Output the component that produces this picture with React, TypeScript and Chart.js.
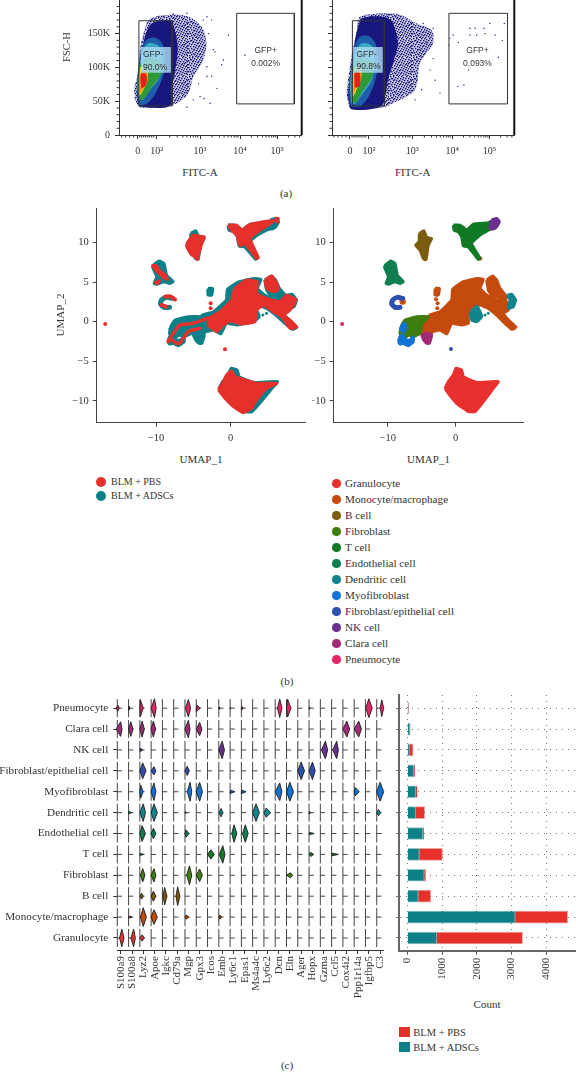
import React, { useEffect, useRef } from "react";
import { Chart, registerables } from "chart.js";
Chart.register(...registerables);
Chart.defaults.font.family = "'Liberation Serif'";
Chart.defaults.color = "#333";

type P = [number, number];

// ---- (a) flow cytometry, x in display decades, y in thousands
const flowXTicks = [0, 0.475, 1.56, 2.56, 3.49];
const flowXLabels = ["0", "10²", "10³", "10⁴", "10⁵"];
const flowYTicks = [0, 50, 100, 150];
const flowYLabels = ["0", "50K", "100K", "150K"];
const flowXMinor = [-0.4, -0.3, -0.2, -0.1, 0.05, 0.1, 0.15, 0.2, 0.25, 0.3, 0.35, 0.4, 0.8, 0.99, 1.13, 1.23, 1.32, 1.39, 1.45, 1.5, 1.86, 2.04, 2.16, 2.26, 2.34, 2.41, 2.46, 2.51, 2.84, 3.0, 3.12, 3.21, 3.28, 3.35, 3.4, 3.45, 3.77, 3.93, 4.05];
const flowYMinor = [10, 20, 30, 40, 60, 70, 80, 90, 110, 120, 130, 140, 160, 170, 180, 190];

const aSparse: P[] = [[-0.07, 52], [-0.09, 67], [0, 91], [0.06, 126], [0.14, 150], [0.31, 172], [0.81, 178], [1.27, 175], [1.6, 160], [1.72, 136], [1.64, 111], [1.39, 86], [1.27, 62], [0.98, 47], [0.56, 41], [0.06, 41]];
const aDense: P[] = [[0, 49], [-0.02, 71], [0.06, 111], [0.18, 145], [0.35, 165], [0.81, 169], [0.95, 150], [1.0, 125], [0.92, 90], [0.85, 71], [0.8, 43], [0.06, 42]];
const aBlue: P[] = [[0.02, 48], [-0.02, 75], [0.04, 110], [0.12, 132], [0.25, 142], [0.45, 144], [0.62, 135], [0.7, 110], [0.62, 85], [0.45, 62], [0.25, 47], [0.05, 44]];
const aCyan: P[] = [[0.03, 52], [0, 76], [0.06, 106], [0.15, 128], [0.3, 136], [0.52, 132], [0.62, 110], [0.55, 85], [0.33, 68], [0.12, 52]];
const aGreen: P[] = [[0.04, 52], [0, 76], [0.06, 102], [0.18, 112], [0.43, 112], [0.6, 105], [0.6, 91], [0.35, 71], [0.14, 52]];
const aYellow: P[] = [[0.03, 57], [0.03, 81], [0.08, 101], [0.24, 96], [0.24, 81], [0.1, 62]];
const aOrange: P[] = [[0.06, 62], [0.06, 85], [0.1, 95], [0.23, 93], [0.23, 76], [0.1, 66]];
const aRed: P[] = [[0.09, 69], [0.08, 90], [0.21, 90], [0.21, 74]];
const aOutliers: P[] = [[1.73, 175], [1.85, 170], [2.27, 148], [2.68, 118], [2.14, 111], [2.1, 104], [1.73, 87], [1.85, 87], [1.98, 69], [1.81, 47], [1.66, 54], [1.23, 41], [1.89, 126], [1.93, 123], [1.56, 57], [1.39, 52], [1.18, 57], [1.1, 62], [1.52, 76], [1.73, 101], [1.77, 150], [1.64, 170], [1.23, 180], [0.52, 175], [0.89, 179]];
const aGateNeg: P[] = [[0.03, 169], [0.86, 169], [0.86, 43], [0.03, 43]];
const aGatePos: P[] = [[2.475, 180], [3.915, 180], [3.915, 46], [2.475, 46]];
const aLabelBack: P[] = [[0.08, 130], [0.83, 130], [0.83, 92], [0.08, 92]];

const bSparse: P[] = [[-0.07, 54], [-0.08, 67], [0.04, 116], [0.17, 155], [0.25, 175], [1.17, 179], [1.67, 165], [2.04, 155], [2.08, 136], [1.75, 106], [1.63, 67], [1.08, 47], [0.83, 41], [0.04, 38]];
const bDense: P[] = [[-0.04, 52], [-0.04, 67], [0.07, 116], [0.18, 155], [0.33, 173], [0.83, 175], [1.05, 168], [1.2, 136], [1.1, 111], [0.95, 81], [0.86, 52], [0.75, 41], [0.04, 38]];
const bBlue: P[] = [[0, 46], [-0.02, 70], [0.06, 112], [0.15, 136], [0.27, 146], [0.48, 146], [0.64, 135], [0.7, 110], [0.65, 85], [0.48, 58], [0.25, 42], [0.05, 42]];
const bCyan: P[] = [[0.03, 48], [0, 74], [0.08, 110], [0.18, 128], [0.32, 136], [0.55, 132], [0.62, 110], [0.55, 82], [0.33, 62], [0.12, 46]];
const bGreen: P[] = [[0.05, 50], [0.02, 75], [0.1, 105], [0.2, 112], [0.42, 112], [0.6, 105], [0.55, 85], [0.32, 65], [0.15, 48]];
const bYellow: P[] = [[0.06, 55], [0.06, 80], [0.12, 100], [0.27, 100], [0.28, 85], [0.15, 65]];
const bOrange: P[] = [[0.09, 60], [0.09, 85], [0.13, 96], [0.26, 95], [0.26, 78], [0.14, 68]];
const bRed: P[] = [[0.12, 70], [0.12, 92], [0.24, 92], [0.24, 72]];
const bOutliers: P[] = [[2.58, 148], [2.71, 137], [3, 158], [3.13, 158], [3, 148], [3.17, 148], [3.35, 158], [3.38, 150], [3.5, 165], [3.63, 148], [3.86, 165], [3.81, 140], [3.71, 115], [2.96, 96], [2.85, 74], [2.7, 72], [2.5, 143], [2.48, 133], [2.25, 62], [2.13, 81], [2, 96], [2.08, 158], [1.83, 165], [1.96, 150], [2.08, 113], [1.79, 67], [1.63, 52], [1.92, 136], [1.75, 126]];
const bGateNeg: P[] = [[0.06, 169], [0.86, 169], [0.86, 43], [0.06, 43]];
const bGatePos: P[] = [[2.475, 180], [3.94, 180], [3.94, 46], [2.475, 46]];
const bLabelBack: P[] = [[0.08, 130], [0.82, 130], [0.82, 92], [0.08, 92]];

// ---- (b) UMAP
const umapXTicks = [-10, 0];
const umapXLabels = ["−10", "0"];
const umapYTicks = [-10, -5, 0, 5, 10];
const umapYLabels = ["−10", "−5", "0", "5", "10"];

const uGranulocyte: P[] = [[-1.57, -8.4], [-1.08, -7.56], [-0.34, -6.72], [0.05, -5.88], [0.88, -6.09], [1.13, -6.93], [3.09, -7.65], [6.27, -7.56], [5.54, -8.4], [4.07, -10.08], [2.84, -11.34], [1.86, -11.34], [0.15, -10.29], [-1.08, -9.03]];
const uMono: P[] = [[-5.1, -1.26], [-4.51, -0.21], [-3.77, 0.84], [-2.3, 1.26], [-0.59, 2.73], [-0.44, 4.08], [1.13, 5.04], [3.09, 5.46], [4.07, 5.34], [3.58, 4.2], [4.56, 3.36], [6.03, 2.73], [7.5, 2.52], [7.75, 1.47], [7.01, 1.05], [7.75, 0.21], [8.87, -0.71], [8.24, -0.97], [7.25, -0.21], [6.03, 0.84], [4.8, 1.68], [3.58, 2.1], [2.84, 1.68], [1.86, 0.84], [1.86, -0.21], [0.88, -0.42], [-0.59, -0.21], [-1.32, -1.55], [-2.3, -1.05], [-3.28, -1.26], [-4.02, -1.68], [-5, -1.68]];
const uMonoUpper: P[] = [[4.56, 5.25], [5.44, 5.76], [6.03, 5.25], [6.52, 4.2], [7.5, 3.15], [7.25, 2.73], [6.03, 3.15], [5.29, 3.36], [4.8, 3.99]];
const uMonoStem: P[] = [[-3.04, 4.2], [-2.4, 4.2], [-2.55, 3.36], [-3.04, 3.36]];
const uMonoDots: P[] = [[-2.65, 2.31], [-2.7, 1.68], [-2.89, 2.82], [-4.51, 7.86], [3.63, 7.98], [1.13, 11.85], [-8.14, 5.04]];
const uMonoRingDots: P[] = [[-7.8, 2.55]];
const uBCell: P[] = [[-5.34, 11.13], [-4.66, 11.47], [-4.26, 10.63], [-3.53, 10.5], [-4.02, 9.66], [-4.36, 7.86], [-4.75, 7.98], [-5.25, 9.03], [-5.88, 9.66], [-5.39, 10.08]];
const uFibroblast: P[] = [[-8.04, -0.63], [-7.45, 0.21], [-5.74, 0.63], [-4.02, 0.63], [-5, -0.42], [-5.25, -1.47], [-6.23, -1.89], [-6.96, -1.68], [-7.7, -2.31], [-8.19, -1.47]];
const uTCell: P[] = [[-0.34, 12.18], [0.64, 12.18], [1.62, 11.55], [2.6, 12.31], [4.8, 12.48], [5.54, 12.73], [5.78, 11.97], [4.8, 11.55], [3.58, 10.92], [2.35, 9.87], [3.58, 7.98], [3.33, 7.86], [1.86, 9.45], [1.13, 9.54], [0.88, 10.71], [0.39, 11.34], [-0.25, 11.55]];
const uEndothelial: P[] = [[-10.49, 7.06], [-9.56, 7.65], [-8.92, 7.35], [-8.58, 5.88], [-7.7, 5.04], [-8.19, 4.83], [-8.92, 5.04], [-9.9, 4.71], [-10.25, 4.83], [-9.9, 5.67], [-10.39, 6.72]];
const uDendriticA: P[] = [[2.11, 1.05], [3.09, 1.97], [3.58, 1.26], [3.82, 0.63], [3.09, 0], [2.35, 0.21]];
const uDendriticB: P[] = [[7.6, 3.36], [8.24, 3.45], [8.82, 2.73], [8.48, 1.89], [7.75, 1.68], [7.99, 2.73]];
const uDendriticDots: P[] = [[4.31, 0.84], [4.8, 1.05]];
const uMyoLoop: P[] = [[-8.43, -2.52], [-8.19, -1.89], [-7.7, -1.68], [-7.45, -2.31], [-6.72, -2.31], [-6.23, -1.89], [-6.23, -2.52], [-6.96, -3.03], [-7.7, -2.73], [-8.19, -2.82]];
const uMyoUpper: P[] = [[-8.19, -1.05], [-7.7, -0.21], [-7.3, -0.42], [-7.55, -1.26]];
const uRing: P[] = [[-7.79, 2.94], [-8.58, 3.07], [-9.26, 2.73], [-9.41, 2.23], [-8.92, 1.81], [-8.19, 1.81]];
const uRingDot: P[] = [[-0.69, -3.45]];
const uNK: P[] = [[5.29, 12.82], [6.03, 13.03], [6.42, 12.61], [6.03, 11.97], [5.54, 11.68], [5.05, 11.76]];
const uClara: P[] = [[-5, -1.68], [-4.26, -1.47], [-3.53, -1.68], [-3.87, -2.73], [-4.26, -2.73], [-4.75, -2.23]];
const uPneumoDot: P[] = [[-16.7, -0.29]];

const rGranulocyte: P[] = [[-1.65, -8.61], [-0.98, -7.56], [-0.54, -6.72], [0.13, -6.18], [0.58, -6.93], [3.48, -7.77], [6.16, -7.77], [4.82, -8.4], [3.48, -9.87], [2.81, -10.92], [1.7, -11.47], [0.36, -10.71], [-0.76, -9.66]];
const rMono: P[] = [[-2.99, 0.42], [-1.43, 1.26], [0.13, 2.73], [0.58, 4.2], [2.14, 5.25], [3.57, 5.04], [3.48, 3.57], [4.82, 2.94], [6.61, 2.52], [7.5, 3.36], [8.75, 2.73], [7.95, 1.47], [7.14, 0.84], [7.95, 0.21], [8.84, -0.71], [7.95, -0.84], [6.83, 0.63], [5.71, 1.26], [4.38, 2.1], [3.48, 1.47], [3.26, 0], [1.47, -0.29], [-0.09, 0.13], [-1.21, -0.63], [-1.88, -1.26], [-2.99, -0.42]];
const rMonoUpper: P[] = [[4.6, 5.25], [5.49, 5.76], [6.16, 4.83], [6.38, 3.99], [5.71, 3.78], [4.82, 4.2]];
const rTCell: P[] = [[-0.31, 12.18], [0.8, 12.18], [1.47, 11.55], [2.37, 12.18], [4.38, 12.61], [5.71, 12.73], [5.04, 12.18], [3.93, 11.55], [2.59, 10.5], [3.71, 8.09], [3.48, 7.98], [1.92, 9.87], [1.25, 9.54], [0.8, 10.92], [-0.09, 11.76]];
const rNK: P[] = [[5.94, 13.03], [6.38, 13.03], [6.25, 12.48]];
const rBCell: P[] = [[-5.89, 9.87], [-5, 10.92], [-4.33, 10.8], [-3.53, 10.71], [-3.88, 9.87], [-4.46, 7.86], [-4.78, 8.19], [-5.22, 8.4], [-5.89, 9.45]];
const rEndothelialA: P[] = [[-10.58, 7.14], [-9.91, 7.14], [-9.46, 6.51], [-8.66, 5.88], [-8.35, 5.25], [-8.93, 5.46], [-9.46, 5.88], [-10.13, 6.51]];
const rEndothelialB: P[] = [[-10.27, 4.92], [-9.46, 5.25], [-9.69, 4.75]];
const rRingA: P[] = [[-8.79, 3.15], [-8.1, 3.2], [-7.45, 2.8]];
const rRingB: P[] = [[-9.24, 2.1], [-8.57, 1.89]];
const rFibroA: P[] = [[-8.35, -2.52], [-7.68, -1.47], [-6.79, -0.42], [-5, -0.21], [-3.21, 0.42]];
const rFibroB: P[] = [[-7.9, -2.31], [-7, -2.82], [-6.34, -2.1], [-5.67, -1.26], [-4.11, -0.84]];
const rDots: P[] = [[-2.68, 2.31], [-2.68, 1.68], [-0.76, -3.49], [-16.8, -0.29]];

// ---- shared categories, bottom to top
const cellTypes = ["Granulocyte", "Monocyte/macrophage", "B cell", "Fibroblast", "T cell", "Endothelial cell", "Dendritic cell", "Myofibroblast", "Fibroblast/epithelial cell", "NK cell", "Clara cell", "Pneumocyte"];
const cellColors = ["#e8302e", "#c44a0d", "#7b5c0e", "#3f7d10", "#0f7a23", "#0f7f50", "#11858e", "#1273d6", "#2d4fae", "#6a3090", "#a32a78", "#e6256a"];
const RED = "#e5302c";
const TEAL = "#0d8088";
const groupNames = ["BLM + PBS", "BLM + ADSCs"];

// ---- (c) violins: gene, left, right, half height, peak position
const genes = ["S100a9", "S100a8", "Lyz2", "Apoe", "Igkc", "Cd79a", "Mgp", "Gpx3", "Icos", "Emb", "Ly6c1", "Epas1", "Ms4a4c", "Ly6c2", "Dcn", "Eln", "Ager", "Hopx", "Gzma", "Ccl5", "Cox4i2", "Ppp1r14a", "Igfbp5", "C3"];
type V = [string, number, number, number, number];
const vGranulocyte: V[] = [["S100a9", 0.2, 0.6, 0.42, 0.4], ["S100a8", 0.2, 0.6, 0.42, 0.45], ["Lyz2", 0, 0.4, 0.15, 0.2]];
const vMono: V[] = [["S100a8", 0, 0.3, 0.05, 0.05], ["Lyz2", 0.05, 0.58, 0.45, 0.3], ["Apoe", 0, 0.55, 0.35, 0.25], ["Mgp", 0, 0.35, 0.1, 0.1], ["Emb", 0, 0.25, 0.1, 0.1]];
const vBCell: V[] = [["Lyz2", 0, 0.3, 0.14, 0.15], ["Apoe", 0, 0.42, 0.24, 0.2], ["Igkc", 0.05, 0.4, 0.42, 0.2], ["Cd79a", 0.2, 0.55, 0.45, 0.35]];
const vFibroblast: V[] = [["Lyz2", 0.05, 0.45, 0.32, 0.25], ["Apoe", 0, 0.42, 0.32, 0.25], ["Mgp", 0.15, 0.6, 0.45, 0.4], ["Gpx3", 0, 0.55, 0.3, 0.3], ["Eln", 0, 0.55, 0.12, 0.35]];
const vTCell: V[] = [["Lyz2", 0, 0.3, 0.05, 0.05], ["Icos", 0, 0.6, 0.22, 0.3], ["Emb", 0.05, 0.55, 0.42, 0.35], ["Hopx", 0, 0.4, 0.1, 0.15], ["Ccl5", 0, 0.6, 0.06, 0.05]];
const vEndothelial: V[] = [["Lyz2", 0, 0.5, 0.38, 0.2], ["Apoe", 0, 0.42, 0.25, 0.2], ["Mgp", 0, 0.35, 0.18, 0.1], ["Ly6c1", 0.15, 0.6, 0.42, 0.35], ["Epas1", 0.1, 0.6, 0.42, 0.35], ["Hopx", 0, 0.45, 0.05, 0.05]];
const vDendritic: V[] = [["S100a8", 0, 0.25, 0.06, 0.05], ["Lyz2", 0, 0.5, 0.42, 0.3], ["Apoe", 0, 0.55, 0.42, 0.25], ["Mgp", 0, 0.15, 0.05, 0.05], ["Emb", 0, 0.35, 0.2, 0.2], ["Ms4a4c", 0, 0.6, 0.42, 0.3], ["Ly6c2", 0, 0.6, 0.22, 0.2], ["Hopx", 0, 0.15, 0.06, 0.05], ["C3", 0, 0.35, 0.15, 0.15]];
const vMyofibroblast: V[] = [["Lyz2", 0, 0.28, 0.3, 0.08], ["Apoe", 0, 0.42, 0.42, 0.25], ["Mgp", 0.2, 0.6, 0.45, 0.45], ["Gpx3", 0, 0.55, 0.45, 0.3], ["Ly6c1", 0, 0.4, 0.08, 0.05], ["Epas1", 0, 0.4, 0.08, 0.05], ["Dcn", 0, 0.6, 0.42, 0.4], ["Eln", 0, 0.62, 0.45, 0.3], ["Ppp1r14a", 0, 0.45, 0.2, 0.1], ["C3", 0, 0.62, 0.45, 0.3]];
const vFibEpi: V[] = [["Lyz2", 0, 0.55, 0.38, 0.25], ["Apoe", 0, 0.42, 0.2, 0.25], ["Mgp", 0, 0.38, 0.22, 0.2], ["Ager", 0, 0.6, 0.42, 0.3], ["Hopx", 0, 0.55, 0.42, 0.3]];
const vNK: V[] = [["Lyz2", 0, 0.25, 0.08, 0.05], ["Emb", 0, 0.5, 0.42, 0.3], ["Gzma", 0.1, 0.65, 0.42, 0.45], ["Ccl5", 0.1, 0.6, 0.42, 0.45]];
const vClara: V[] = [["S100a9", -0.1, 0.42, 0.35, 0.3], ["S100a8", 0, 0.4, 0.35, 0.2], ["Lyz2", 0, 0.4, 0.38, 0.2], ["Apoe", 0, 0.4, 0.38, 0.2], ["Mgp", 0, 0.45, 0.42, 0.3], ["Gpx3", 0, 0.5, 0.32, 0.3], ["Cox4i2", 0, 0.6, 0.38, 0.35], ["Ppp1r14a", 0, 0.65, 0.38, 0.4]];
const vPneumocyte: V[] = [["S100a9", -0.1, 0.18, 0.15, 0.04], ["S100a8", 0, 0.1, 0.1, 0.03], ["Lyz2", 0, 0.3, 0.4, 0.05], ["Apoe", 0, 0.45, 0.45, 0.3], ["Mgp", 0.05, 0.5, 0.42, 0.3], ["Gpx3", 0, 0.35, 0.15, 0.05], ["Emb", 0, 0.1, 0.05, 0.03], ["Ly6c1", 0, 0.06, 0.05, 0.03], ["Epas1", 0, 0.15, 0.08, 0.05], ["Dcn", 0.2, 0.6, 0.44, 0.4], ["Eln", 0, 0.4, 0.42, 0.1], ["Hopx", 0, 0.1, 0.05, 0.03], ["Igfbp5", 0.03, 0.6, 0.45, 0.3], ["C3", 0.3, 0.62, 0.4, 0.45]];
const violinRows = [vGranulocyte, vMono, vBCell, vFibroblast, vTCell, vEndothelial, vDendritic, vMyofibroblast, vFibEpi, vNK, vClara, vPneumocyte];

// ---- (c) counts, bottom to top
const countsADSC = [846, 3106, 317, 490, 346, 452, 250, 250, 192, 59, 75, 25];
const countsPBS = [2471, 1509, 356, 39, 664, 19, 250, 38, 20, 106, 5, 5];
const countTicks = [0, 1000, 2000, 3000, 4000];

// ---- helpers
const pts = (a: P[]) => a.map(([x, y]) => ({ x, y }));
const closed = (a: P[]) => pts([...a, a[0]]);

const poly = (a: P[], color: any, w = 3, tension = 0.12) => ({
  data: closed(a), showLine: true, fill: "shape", backgroundColor: color, borderColor: w ? color : "transparent",
  borderWidth: w, pointRadius: 0, tension, borderJoinStyle: "round",
});
const path = (a: P[], color: string, w = 4) => ({
  data: pts(a), showLine: true, fill: false, borderColor: color, borderWidth: w, pointRadius: 0,
  borderCapStyle: "round", borderJoinStyle: "round", tension: 0.2,
});
const dots = (a: P[], color: string, r = 2) => ({
  data: pts(a), showLine: false, pointRadius: r, backgroundColor: color, borderWidth: 0,
});
const outline = (a: P[], color: string, w = 1) => ({
  data: closed(a), showLine: true, fill: false, borderColor: color, borderWidth: w, pointRadius: 0,
});

const fixedTicks = (vals: number[]) => (s: any) => { s.ticks = vals.map((value) => ({ value })); };

const minorTicks = (xs: number[], ys: number[], len: number) => ({
  id: "minorTicks",
  afterDraw(chart: any) {
    const { ctx, scales, chartArea } = chart;
    ctx.save();
    ctx.strokeStyle = "#333";
    ctx.lineWidth = 1;
    ctx.beginPath();
    xs.forEach((v) => { const p = scales.x.getPixelForValue(v); ctx.moveTo(p, chartArea.bottom); ctx.lineTo(p, chartArea.bottom + len); });
    ys.forEach((v) => { const p = scales.y.getPixelForValue(v); ctx.moveTo(chartArea.left, p); ctx.lineTo(chartArea.left - len, p); });
    ctx.stroke();
    ctx.restore();
  },
});

const axisBase = (color = "#333") => ({
  border: { color, width: 1 },
  grid: { drawOnChartArea: false, drawTicks: true, tickLength: 4, tickColor: color, tickWidth: 1 },
});

// speckle texture standing in for single cell events in the sparse fringe
const speckleRows = [[1, 4, 9, 12, 17, 20], [6, 14, 22], [2, 3, 8, 11, 16, 19], [0, 5, 13, 21], [4, 7, 10, 15, 18, 22], [1, 9, 12, 20], [3, 6, 14, 17, 19], [0, 8, 11, 16, 22], [2, 5, 10, 13, 18, 21], [7, 15, 20], [0, 3, 9, 12, 17, 22], [5, 6, 14, 19], [1, 8, 11, 16, 21], [4, 10, 13, 18], [0, 2, 7, 15, 20, 22], [5, 9, 12, 17], [3, 6, 11, 14, 19, 21], [1, 8, 16, 22], [4, 7, 10, 13, 18]];
function specklePattern(): any {
  const tile = document.createElement("canvas");
  tile.width = 23;
  tile.height = speckleRows.length;
  const t = tile.getContext("2d") as CanvasRenderingContext2D;
  t.fillStyle = "rgba(24,24,125,0.22)";
  t.fillRect(0, 0, tile.width, tile.height);
  t.fillStyle = "#15157c";
  speckleRows.forEach((xs, y) => xs.forEach((x) => t.fillRect(x, y, 1.4, 1.4)));
  return t.createPattern(tile, "repeat");
}

function flowConfig(xMin: number, xMax: number, layers: P[][], outliers: P[], gates: P[][], back: P[], showY: boolean) {
  const colors: any[] = [specklePattern(), "#17177e", "#1f5ea8", "#39a9c4", "#2f9a3a", "#f2d81f", "#f58a1e", "#e4211c"];
  const ds: any[] = [];
  layers.forEach((l, i) => ds.push(poly(l, colors[i], 0, 0.3)));
  ds.push(dots(outliers, "#1c1c80", 0.7));
  ds.push(poly(back, "rgba(170,217,242,0.82)", 0, 0));
  gates.forEach((g) => ds.push(outline(g, "#333", 1)));
  ds.push({ data: pts([[xMax, 0], [xMax, 200]]), showLine: true, borderColor: "#111", borderWidth: 2, pointRadius: 0, clip: false });
  return {
    type: "scatter",
    data: { datasets: ds.reverse() },
    plugins: [minorTicks(flowXMinor, flowYMinor, 2.5)],
    options: {
      scales: {
        x: {
          type: "linear", min: xMin, max: xMax, ...axisBase(), afterBuildTicks: fixedTicks(flowXTicks),
          ticks: { padding: 6, font: { size: 10 }, maxRotation: 0, autoSkip: false, callback: (_: any, i: number) => flowXLabels[i] },
        },
        y: {
          type: "linear", min: 0, max: 199.7, ...axisBase(), afterBuildTicks: fixedTicks(flowYTicks),
          ticks: { display: showY, padding: 5, font: { size: 10 }, autoSkip: false, callback: (_: any, i: number) => flowYLabels[i] },
        },
      },
    },
  };
}

function umapConfig(datasets: any[]) {
  return {
    type: "scatter",
    data: { datasets: datasets.reverse() },
    options: {
      scales: {
        x: {
          type: "linear", min: -17.94, max: 9.95, ...axisBase("#444"), afterBuildTicks: fixedTicks(umapXTicks),
          ticks: { padding: 5, font: { size: 10.5 }, maxRotation: 0, autoSkip: false, callback: (_: any, i: number) => umapXLabels[i] },
        },
        y: {
          type: "linear", min: -12.74, max: 14.3, ...axisBase("#444"), afterBuildTicks: fixedTicks(umapYTicks),
          ticks: { padding: 4, font: { size: 10.5 }, autoSkip: false, callback: (_: any, i: number) => umapYLabels[i] },
        },
      },
    },
  };
}

const allTeal = [uGranulocyte, uMono, uMonoUpper, uMonoStem, uBCell, uFibroblast, uTCell, uEndothelial, uDendriticA, uDendriticB, uMyoLoop, uMyoUpper, uNK, uClara];
const umapLeft = () => umapConfig([
  ...allTeal.map((a) => poly(a, TEAL)),
  path(uRing, TEAL, 5),
  dots(uDendriticDots, TEAL, 1.5),
  poly(rGranulocyte, RED), poly(rMono, RED), poly(rMonoUpper, RED), poly(rTCell, RED), poly(rNK, RED), poly(rBCell, RED),
  poly(rEndothelialA, RED, 2), poly(rEndothelialB, RED, 2),
  path(rRingA, RED, 4), path(rRingB, RED, 4), path(rFibroA, RED, 3.5), path(rFibroB, RED, 3.5),
  dots(rDots, RED, 2),
]);
const c = (name: string) => cellColors[cellTypes.indexOf(name)];
const umapRight = () => umapConfig([
  poly(uGranulocyte, c("Granulocyte")),
  poly(uMono, c("Monocyte/macrophage")), poly(uMonoUpper, c("Monocyte/macrophage")), poly(uMonoStem, c("Monocyte/macrophage")),
  dots(uMonoDots, c("Monocyte/macrophage"), 2), dots(uMonoRingDots, c("Monocyte/macrophage"), 3.2),
  poly(uBCell, c("B cell")),
  poly(uFibroblast, c("Fibroblast")),
  poly(uTCell, c("T cell")),
  poly(uEndothelial, c("Endothelial cell")),
  poly(uDendriticA, c("Dendritic cell")), poly(uDendriticB, c("Dendritic cell")), dots(uDendriticDots, c("Dendritic cell"), 1.5),
  poly(uMyoLoop, c("Myofibroblast")), poly(uMyoUpper, c("Myofibroblast")),
  path(uRing, c("Fibroblast/epithelial cell"), 5), dots(uRingDot, c("Fibroblast/epithelial cell"), 2),
  poly(uNK, c("NK cell")),
  poly(uClara, c("Clara cell")),
  dots(uPneumoDot, c("Pneumocyte"), 2),
]);

function violinConfig() {
  const frame: any[] = [];
  const base: any[] = [];
  genes.forEach((_, g) => cellTypes.forEach((__, r) => {
    frame.push({ x: g, y: r - 0.43 }, { x: g, y: r + 0.43 }, { x: g, y: null });
    base.push({ x: g, y: r }, { x: g + 0.42, y: r }, { x: g, y: null });
  }));
  const line = (data: any[]) => ({ data, showLine: true, borderColor: "#444", borderWidth: 1, pointRadius: 0, spanGaps: false, clip: false });
  const shapes: any[] = [];
  violinRows.forEach((row, r) => row.forEach(([gene, l, rt, h, peak]) => {
    const g = genes.indexOf(gene);
    shapes.push({
      data: [{ x: g + l, y: r }, { x: g + peak, y: r + h }, { x: g + rt, y: r }, { x: g + peak, y: r - h }, { x: g + l, y: r }],
      showLine: true, fill: "shape", backgroundColor: cellColors[r], borderColor: "#1c1c1c", borderWidth: 0.9, pointRadius: 0, clip: false,
    });
  }));
  const datasets = [line(frame), line(base), ...shapes].reverse();
  return {
    type: "scatter",
    data: { datasets },
    options: {
      scales: {
        x: {
          type: "linear", min: 0, max: 23.6, ...axisBase("#333"), afterBuildTicks: fixedTicks(genes.map((_, i) => i + 0.31)),
          ticks: { padding: 2, font: { size: 11 }, autoSkip: false, minRotation: 90, maxRotation: 90, callback: (_: any, i: number) => genes[i] },
        },
        y: {
          type: "linear", min: -0.575, max: 11.63, border: { display: false },
          grid: { drawOnChartArea: false, drawTicks: true, tickLength: 4, tickColor: "#333" },
          afterBuildTicks: fixedTicks(cellTypes.map((_, i) => i)),
          ticks: { padding: 5, font: { size: 11.2 }, autoSkip: false, callback: (_: any, i: number) => cellTypes[i] },
        },
      },
    },
  };
}

function barConfig() {
  const rows = (vals: number[]) => vals.map((x, y) => ({ x, y }));
  return {
    type: "bar",
    data: {
      datasets: [
        { label: groupNames[1], data: rows(countsADSC), backgroundColor: TEAL, borderColor: "rgba(13,128,136,0.45)", borderWidth: 1, barThickness: 12 },
        { label: groupNames[0], data: rows(countsPBS), backgroundColor: RED, borderColor: "rgba(229,48,44,0.45)", borderWidth: 1, barThickness: 12 },
      ],
    },
    options: {
      indexAxis: "y",
      scales: {
        x: {
          type: "linear", stacked: true, min: -239, max: 4826,
          border: { color: "#666", width: 2, dash: [1, 5] },
          grid: { color: "#777", lineWidth: 1, tickLength: 4, tickColor: "#555" },
          afterBuildTicks: fixedTicks(countTicks),
          ticks: { padding: 3, font: { size: 11 }, autoSkip: false, minRotation: 90, maxRotation: 90, callback: (v: any) => String(v) },
        },
        y: {
          type: "linear", stacked: true, min: -0.61, max: 11.63, offset: false,
          border: { color: "#666", width: 2, dash: [1, 5] },
          grid: { offset: false, color: "#777", lineWidth: 1, tickLength: 3, tickColor: "#777" },
          afterBuildTicks: fixedTicks(cellTypes.map((_, i) => i)),
          ticks: { display: false },
        },
      },
    },
  };
}

type Panel = { box: number[]; plot: number[]; make: () => any };
const panels: Panel[] = [
  { box: [50, 0, 262, 165], plot: [119, 0, 301.7, 135], make: () => flowConfig(-0.4675, 4.1, [aSparse, aDense, aBlue, aCyan, aGreen, aYellow, aOrange, aRed], aOutliers, [aGateNeg, aGatePos], aLabelBack, true) },
  { box: [320, 0, 206, 165], plot: [332, 0, 514.3, 135], make: () => flowConfig(-0.45, 4.11, [bSparse, bDense, bBlue, bCyan, bGreen, bYellow, bOrange, bRed], bOutliers, [bGateNeg, bGatePos], bLabelBack, false) },
  { box: [60, 205, 252, 240], plot: [96.7, 208.3, 305, 422.7], make: umapLeft },
  { box: [312, 205, 220, 240], plot: [333.7, 208.3, 523.3, 422.7], make: umapRight },
  { box: [0, 688, 390, 320], plot: [117.3, 695, 383.5, 950], make: violinConfig },
  { box: [390, 688, 186, 300], plot: [399, 695, 575, 950.7], make: barConfig },
];

const serif = "'Liberation Serif'";
function T({ x, y, children, size = 11, anchor = "center", rot = 0, font = serif }: any) {
  const tx = anchor === "center" ? "-50%" : "0";
  return (
    <div style={{ position: "absolute", left: x, top: y, transform: `translate(${tx},-50%) rotate(${rot}deg)`, fontFamily: font, fontSize: size, color: "#333", whiteSpace: "nowrap", lineHeight: 1 }}>
      {children}
    </div>
  );
}
const Dot = ({ x, y, r, color }: any) => (
  <div style={{ position: "absolute", left: x - r, top: y - r, width: 2 * r, height: 2 * r, borderRadius: "50%", background: color }} />
);

const sans = "'Liberation Sans'";
export default function App() {
  const refs = useRef<(HTMLCanvasElement | null)[]>([]);
  useEffect(() => {
    const charts = panels.map((p, i) => {
      const [bx, by, bw, bh] = p.box;
      const [L, Tp, R, B] = p.plot;
      const cfg = p.make();
      cfg.options = {
        ...cfg.options,
        animation: false, responsive: false, maintainAspectRatio: false, events: [],
        layout: { autoPadding: false, padding: { left: 0, right: bx + bw - R, top: Tp - by, bottom: 0 } },
        plugins: { legend: { display: false }, tooltip: { enabled: false }, title: { display: false } },
      };
      const noPad = (s: any) => { s.paddingLeft = 0; s.paddingRight = 0; s.paddingTop = 0; s.paddingBottom = 0; };
      cfg.options.scales.x.afterFit = (s: any) => { s.height = by + bh - B; noPad(s); };
      cfg.options.scales.y.afterFit = (s: any) => { s.width = L - bx; noPad(s); };
      return new Chart(refs.current[i] as HTMLCanvasElement, cfg);
    });
    return () => charts.forEach((ch) => ch.destroy());
  }, []);
  return (
    <div style={{ position: "absolute", left: 0, top: 0, width: 576, height: 1075, overflow: "hidden", background: "#fff", filter: "blur(0.35px)" }}>
      {panels.map((p, i) => (
        <canvas key={i} ref={(el) => { refs.current[i] = el; }} width={p.box[2]} height={p.box[3]}
          style={{ position: "absolute", left: p.box[0], top: p.box[1], width: p.box[2], height: p.box[3] }} />
      ))}
      <T x={67} y={47} rot={-90} size={10.5}>FSC-H</T>
      <T x={200} y={172}>FITC-A</T>
      <T x={412.7} y={172}>FITC-A</T>
      <T x={143} y={54} anchor="left" size={8.5} font={sans}>GFP-</T>
      <T x={143} y={67} anchor="left" size={8.5} font={sans}>90.0%</T>
      <T x={356.5} y={54} anchor="left" size={8.5} font={sans}>GFP-</T>
      <T x={356.5} y={66} anchor="left" size={8.5} font={sans}>90.8%</T>
      <T x={265.7} y={50} size={8.5} font={sans}>GFP+</T>
      <T x={265.7} y={63} size={8.5} font={sans}>0.002%</T>
      <T x={477.5} y={50} size={8.5} font={sans}>GFP+</T>
      <T x={477.5} y={63} size={8.5} font={sans}>0.093%</T>
      <T x={286} y={193}>(a)</T>
      <T x={60} y={315} rot={-90}>UMAP_2</T>
      <T x={201} y={459}>UMAP_1</T>
      <T x={428.5} y={459}>UMAP_1</T>
      <Dot x={101} y={482} r={5} color={RED} />
      <Dot x={101} y={496} r={5} color={TEAL} />
      <T x={111} y={482} anchor="left" size={10}>{groupNames[0]}</T>
      <T x={111} y={496} anchor="left" size={10}>{groupNames[1]}</T>
      {cellTypes.map((name, i) => (
        <React.Fragment key={name}>
          <Dot x={336.3} y={483.3 + 16 * i} r={4.3} color={cellColors[i]} />
          <T x={345} y={484 + 16 * i} anchor="left" size={11.2}>{name}</T>
        </React.Fragment>
      ))}
      <T x={287} y={681}>(b)</T>
      <T x={487} y={1004}>Count</T>
      <div style={{ position: "absolute", left: 399, top: 1026.5, width: 10.5, height: 10.5, background: RED }} />
      <div style={{ position: "absolute", left: 399, top: 1041.5, width: 10.5, height: 10.5, background: TEAL }} />
      <T x={413.3} y={1033} anchor="left" size={10.5}>{groupNames[0]}</T>
      <T x={413.3} y={1048} anchor="left" size={10.5}>{groupNames[1]}</T>
      <T x={287} y={1065}>(c)</T>
    </div>
  );
}
